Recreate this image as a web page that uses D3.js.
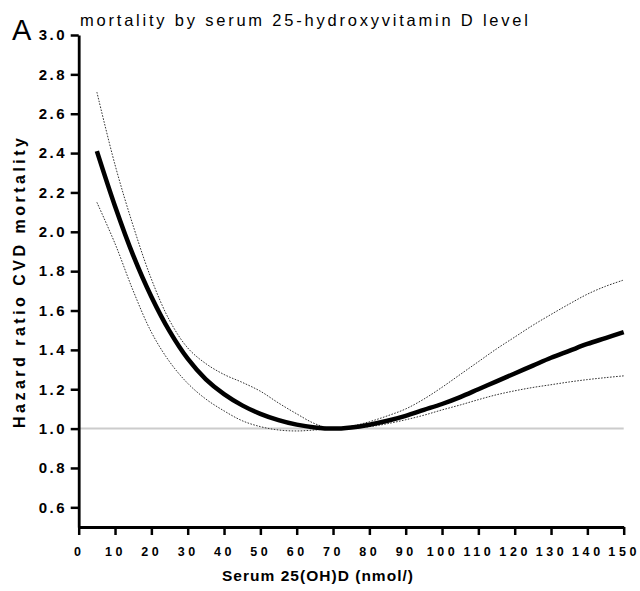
<!DOCTYPE html>
<html>
<head>
<meta charset="utf-8">
<script src="https://cdn.jsdelivr.net/npm/d3@7"></script>
<style>
  html, body { margin: 0; padding: 0; background: #fff; }
  svg { display: block; }
</style>
</head>
<body>
<svg id="chart" width="640" height="591"></svg>
<script>
// ---- data ----
const xValues = [5,10,15,20,25,30,35,40,45,50,55,60,65,70,75,80,85,90,95,100,105,110,115,120,125,130,135,140,145,150];
const hazardRatio = [2.41,2.13,1.88,1.67,1.495,1.355,1.25,1.175,1.118,1.075,1.043,1.02,1.006,1.0,1.006,1.02,1.04,1.065,1.095,1.125,1.16,1.2,1.24,1.28,1.32,1.36,1.395,1.43,1.46,1.49];
const upperCI = [2.71,2.34,2.03,1.76,1.55,1.41,1.33,1.275,1.235,1.19,1.13,1.075,1.025,1.0,1.012,1.035,1.065,1.10,1.15,1.21,1.275,1.34,1.405,1.465,1.525,1.58,1.633,1.683,1.723,1.755];
const lowerCI = [2.15,1.94,1.70,1.49,1.34,1.23,1.15,1.09,1.04,1.01,0.993,0.988,0.993,1.0,1.003,1.01,1.025,1.045,1.068,1.095,1.12,1.147,1.172,1.192,1.209,1.223,1.237,1.249,1.259,1.268];
const xTicks = [0,10,20,30,40,50,60,70,80,90,100,110,120,130,140,150];
const yTicks = [0.6,0.8,1.0,1.2,1.4,1.6,1.8,2.0,2.2,2.4,2.6,2.8,3.0];
const referenceValue = 1.0;
const titleText = "mortality by serum 25-hydroxyvitamin D level";
const panelLetter = "A";
const xTitle = "Serum 25(OH)D (nmol/)";
const yTitle = "Hazard ratio CVD mortality";

// ---- layout ----
const svg = d3.select("#chart");
const x = d3.scaleLinear().domain([0, 150]).range([78.7, 623.7]);
const y = d3.scaleLinear().domain([0.5, 3.0]).range([527, 35]);
const font = "'Liberation Sans', Arial, Helvetica, sans-serif";

// reference line
svg.append("line")
  .attr("x1", x(0)).attr("x2", x(150))
  .attr("y1", y(referenceValue)).attr("y2", y(referenceValue))
  .attr("stroke", "#cccccc").attr("stroke-width", 2);

const line = d3.line()
  .x((d, i) => x(xValues[i]))
  .y(d => y(d))
  .curve(d3.curveCatmullRom.alpha(0.5));

// CI lines
[upperCI, lowerCI].forEach(arr => {
  svg.append("path")
    .attr("d", line(arr))
    .attr("fill", "none")
    .attr("stroke", "#333")
    .attr("stroke-width", 1)
    .attr("stroke-dasharray", "1.6,1.4");
});

// main line
svg.append("path")
  .attr("d", line(hazardRatio))
  .attr("fill", "none")
  .attr("stroke", "#000")
  .attr("stroke-width", 4.5)
  .attr("stroke-linejoin", "round");

// axes
const yAxis = d3.axisLeft(y).tickValues(yTicks).tickFormat(d3.format(".1f")).tickSize(8).tickSizeOuter(0).tickPadding(6);
const gy = svg.append("g").attr("transform", `translate(${x(0)},0)`).call(yAxis);
gy.select(".domain").attr("stroke", "#000").attr("stroke-width", 2.8);
gy.selectAll(".tick line").attr("stroke", "#000").attr("stroke-width", 2.5);
gy.selectAll(".tick text")
  .attr("font-family", font).attr("font-size", 15).attr("font-weight", "bold")
  .attr("fill", "#000").style("letter-spacing", "2.6px").attr("dx", "2.6px");

const xAxis = d3.axisBottom(x).tickValues(xTicks).tickFormat(d3.format("d")).tickSize(8).tickSizeOuter(0).tickPadding(12);
const gx = svg.append("g").attr("transform", `translate(0,${y(0.5)})`).call(xAxis);
gx.select(".domain").attr("stroke", "#000").attr("stroke-width", 2.8);
gx.selectAll(".tick line").attr("stroke", "#000").attr("stroke-width", 2.5);
gx.selectAll(".tick text")
  .attr("font-family", font).attr("font-size", 12.5).attr("font-weight", "bold")
  .attr("fill", "#000").style("letter-spacing", "3.6px");

// titles
svg.append("text")
  .attr("x", 12).attr("y", 39.5)
  .attr("font-family", font).attr("font-size", 29)
  .attr("fill", "#000").text(panelLetter);

svg.append("text")
  .attr("x", 80).attr("y", 26)
  .attr("font-family", font).attr("font-size", 16.5)
  .attr("fill", "#000")
  .attr("textLength", 448).attr("lengthAdjust", "spacing")
  .text(titleText);

svg.append("text")
  .attr("x", 222).attr("y", 581)
  .attr("font-family", font).attr("font-size", 15.5).attr("font-weight", "bold")
  .attr("fill", "#000")
  .attr("textLength", 191).attr("lengthAdjust", "spacing")
  .text(xTitle);

svg.append("text")
  .attr("transform", "rotate(-90)")
  .attr("x", -283).attr("y", 25)
  .attr("text-anchor", "middle")
  .attr("font-family", font).attr("font-size", 16).attr("font-weight", "bold")
  .attr("fill", "#000")
  .attr("textLength", 290).attr("lengthAdjust", "spacing")
  .text(yTitle);
</script>
</body>
</html>
